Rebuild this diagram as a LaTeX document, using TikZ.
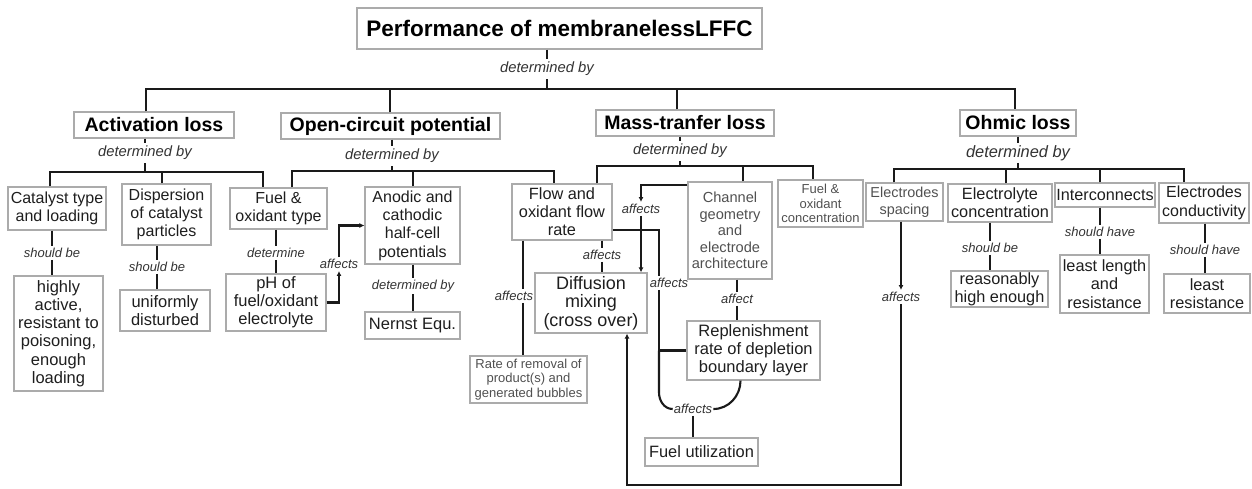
\documentclass[tikz,border=0pt]{standalone}
\usepackage{fontspec}
\setmainfont{Liberation Sans}
\usetikzlibrary{arrows.meta}
\newcommand\setfz[2]{\fontsize{#1}{#2}\selectfont}
\definecolor{bordc}{HTML}{ABABAB}
\definecolor{linec}{HTML}{1A1A1A}
\definecolor{txtc}{HTML}{1E1E1E}
\definecolor{labc}{HTML}{333333}
\definecolor{lightc}{HTML}{505050}
\begin{document}
\begin{tikzpicture}[x=1pt,y=-1pt,
  box/.style={draw=bordc, line width=1.2pt, inner sep=0pt, align=center, text=txtc},
  head/.style={box, font=\bfseries\setfz{19.5}{22}, text=black},
  lab/.style={font=\itshape\setfz{13}{15}, inner xsep=1pt, inner ysep=2pt, text=labc},
  biglab/.style={lab, font=\itshape\setfz{14.8}{17}, inner ysep=3pt},
  conn/.style={draw=linec, line width=2.1pt},
  arr/.style={conn, -{Latex[length=5pt,width=5pt]}}]
\useasboundingbox (0,0) rectangle (1252,488);

% ---- top ----
\node[box, font=\bfseries\setfz{22.5}{26}, text=black, minimum width=405pt, minimum height=41pt] (title) at (559.5,28.5) {Performance of membranelessLFFC};
\node[biglab] (lT) at (547,69) {determined by};

% ---- level 1 ----
\node[head, minimum width=160pt, minimum height=26pt] (act) at (154,125) {Activation loss};
\node[head, minimum width=219pt, minimum height=26pt] (ocp) at (390.5,126) {Open-circuit potential};
\node[head, minimum width=178pt, minimum height=26pt] (mass) at (685,123) {Mass-tranfer loss};
\node[head, minimum width=116pt, minimum height=26pt] (ohm) at (1018,123) {Ohmic loss};

\node[biglab] (lA) at (145,153) {determined by};
\node[biglab] (lO) at (392,156) {determined by};
\node[biglab] (lM) at (680,151) {determined by};
\node[lab, font=\itshape\setfz{16.4}{18}] (lH) at (1018,153) {determined by};

% ---- level 2 ----
\node[box, font=\setfz{16}{18}, minimum width=98pt, minimum height=43pt] (cat) at (57,208.5) {Catalyst type\\and loading};
\node[box, font=\setfz{16}{18}, minimum width=89pt, minimum height=61pt] (disp) at (166.5,214.5) {Dispersion\\of catalyst\\particles};
\node[box, font=\setfz{16}{18}, minimum width=97pt, minimum height=41pt] (fot) at (278.5,208.5) {Fuel \&\\oxidant type};
\node[box, font=\setfz{16}{18.3}, minimum width=95pt, minimum height=77pt] (anod) at (412.5,225.5) {Anodic and\\cathodic\\half-cell\\potentials};
\node[box, font=\setfz{16.3}{18}, minimum width=100pt, minimum height=56pt] (flow) at (562,212) {Flow and\\oxidant flow\\rate};
\node[box, font=\setfz{14.6}{16.5}, text=lightc, minimum width=84pt, minimum height=97pt] (chan) at (730,230.5) {Channel\\geometry\\and\\electrode\\architecture};
\node[box, font=\setfz{13}{14.5}, text=lightc, minimum width=85pt, minimum height=47pt] (foc) at (820.5,203.5) {Fuel \&\\oxidant\\concentration};
\node[box, font=\setfz{14.4}{17}, text=lightc, minimum width=77pt, minimum height=38pt] (esp) at (904.5,202) {Electrodes\\spacing};
\node[box, font=\setfz{16.3}{18}, minimum width=104pt, minimum height=38pt] (econ) at (1000,203) {Electrolyte\\concentration};
\node[box, font=\setfz{16.2}{18}, minimum width=100pt, minimum height=24pt] (inter) at (1105,195) {Interconnects};
\node[box, font=\setfz{16}{18.5}, minimum width=90pt, minimum height=40pt] (econd) at (1204,203) {Electrodes\\conductivity};

% ---- level 3 ----
\node[box, font=\setfz{16.5}{18.3}, minimum width=89pt, minimum height=115pt] (hact) at (58.5,333.5) {highly\\active,\\resistant to\\poisoning,\\enough\\loading};
\node[box, font=\setfz{16.5}{18}, minimum width=90pt, minimum height=41pt] (unif) at (165,310.5) {uniformly\\disturbed};
\node[box, font=\setfz{16.5}{18}, minimum width=100pt, minimum height=57pt] (ph) at (276,302.5) {pH of\\fuel/oxidant\\electrolyte};
\node[box, font=\setfz{16.5}{18}, minimum width=95pt, minimum height=27pt] (nern) at (412.5,325.5) {Nernst Equ.};
\node[box, font=\setfz{18}{18.5}, minimum width=112pt, minimum height=60pt] (diff) at (591,303) {Diffusion\\mixing\\(cross over)};
\node[box, font=\setfz{13}{14.5}, text=lightc, minimum width=117pt, minimum height=47pt] (rate) at (528.5,379.5) {Rate of removal of\\product(s) and\\generated bubbles};
\node[box, font=\setfz{16.5}{18}, minimum width=133pt, minimum height=59pt] (repl) at (753.5,350.5) {Replenishment\\rate of depletion\\boundary layer};
\node[box, font=\setfz{16.4}{18}, minimum width=113pt, minimum height=28pt] (futil) at (701.5,452) {Fuel utilization};
\node[box, font=\setfz{16.3}{18}, minimum width=97pt, minimum height=36pt] (reas) at (999.5,289) {reasonably\\high enough};
\node[box, font=\setfz{16.3}{18.5}, minimum width=89pt, minimum height=58pt] (llen) at (1104.5,284) {least length\\and\\resistance};
\node[box, font=\setfz{16.3}{18.5}, minimum width=86pt, minimum height=39pt] (lres) at (1207,293.5) {least\\resistance};

% ---- labels ----
\node[lab] (l1) at (52,253) {should be};
\node[lab] (l2) at (157,267) {should be};
\node[lab] (l3) at (276,253) {determine};
\node[lab] (l4) at (413,286) {determined by};
\node[lab] (la) at (339,264) {affects};
\node[lab] (lr) at (514,296) {affects};
\node[lab] (ld) at (602,255) {affects};
\node[lab] (lc) at (641,209) {affects};
\node[lab] (lf) at (669,283) {affects};
\node[lab] (lrep) at (737,299) {affect};
\node[lab] (lfu) at (693,409) {affects};
\node[lab] (le) at (901,297) {affects};
\node[lab] (l5) at (990,248) {should be};
\node[lab] (l6) at (1100,232) {should have};
\node[lab] (l7) at (1205,250) {should have};

% ---- coordinates ----
\coordinate (b0) at (547,89);
\coordinate (bA) at (145,172);
\coordinate (bO) at (392,171);
\coordinate (bM) at (680,166);
\coordinate (bH) at (1018,169);
\coordinate (xAct) at (146,0);
\coordinate (xOcp) at (390,0);
\coordinate (xMas) at (677,0);
\coordinate (xOhm) at (1015,0);
\coordinate (x50) at (50,0);
\coordinate (x162) at (162,0);
\coordinate (x263) at (263,0);
\coordinate (x292) at (292,0);
\coordinate (x413) at (413,0);
\coordinate (x554) at (554,0);
\coordinate (x597) at (597,0);
\coordinate (x743) at (743,0);
\coordinate (x813) at (813,0);
\coordinate (x894) at (894,0);
\coordinate (x1006) at (1006,0);
\coordinate (x1100) at (1100,0);
\coordinate (x1184) at (1184,0);
\coordinate (x523) at (523,0);
\coordinate (x659) at (659,0);
\coordinate (cb) at (627,485);

% ---- top connectors ----
\draw[conn] (title.south -| lT) -- (lT);
\draw[conn] (lT) -- (b0);
\draw[conn] (xAct |- act.north) -- (xAct |- b0) -- (xOhm |- b0) -- (xOhm |- ohm.north);
\draw[conn] (xOcp |- ocp.north) -- (xOcp |- b0);
\draw[conn] (xMas |- mass.north) -- (xMas |- b0);

% activation
\draw[conn] (act.south -| lA) -- (lA);
\draw[conn] (lA) -- (bA);
\draw[conn] (x50 |- cat.north) -- (x50 |- bA) -- (x263 |- bA) -- (x263 |- fot.north);
\draw[conn] (x162 |- disp.north) -- (x162 |- bA);
% open circuit
\draw[conn] (ocp.south -| lO) -- (lO);
\draw[conn] (lO) -- (bO);
\draw[conn] (x292 |- fot.north) -- (x292 |- bO) -- (x554 |- bO) -- (x554 |- flow.north);
\draw[conn] (x413 |- anod.north) -- (x413 |- bO);
% mass transfer
\draw[conn] (mass.south -| lM) -- (lM);
\draw[conn] (lM) -- (bM);
\draw[conn] (x597 |- flow.north) -- (x597 |- bM) -- (x813 |- bM) -- (x813 |- foc.north);
\draw[conn] (x743 |- chan.north) -- (x743 |- bM);
% ohmic
\draw[conn] (ohm.south -| lH) -- (lH);
\draw[conn] (lH) -- (bH);
\draw[conn] (x894 |- esp.north) -- (x894 |- bH) -- (x1184 |- bH) -- (x1184 |- econd.north);
\draw[conn] (x1006 |- econ.north) -- (x1006 |- bH);
\draw[conn] (x1100 |- inter.north) -- (x1100 |- bH);

% ---- level 3 connectors ----
\draw[conn] (cat.south -| l1) -- (l1);   \draw[conn] (l1) -- (hact.north -| l1);
\draw[conn] (disp.south -| l2) -- (l2);  \draw[conn] (l2) -- (unif.north -| l2);
\draw[conn] (fot.south -| l3) -- (l3);   \draw[conn] (l3) -- (ph.north -| l3);
\draw[conn] (anod.south -| l4) -- (l4);  \draw[conn] (l4) -- (nern.north -| l4);
\draw[conn] (econ.south -| l5) -- (l5);  \draw[conn] (l5) -- (reas.north -| l5);
\draw[conn] (inter.south -| l6) -- (l6); \draw[conn] (l6) -- (llen.north -| l6);
\draw[conn] (econd.south -| l7) -- (l7); \draw[conn] (l7) -- (lres.north -| l7);
\draw[conn] (chan.south -| lrep) -- (lrep); \draw[conn] (lrep) -- (repl.north -| lrep);
\draw[conn] (flow.south -| ld) -- (ld);  \draw[conn] (ld) -- (diff.north -| ld);

% pH affects anodic
\draw[arr] (ph.east) -| (la.south);
\draw[arr] (la.north) |- (anod.west);

% flow affects removal
\draw[conn] (x523 |- flow.south) -- (x523 |- lr.north);
\draw[conn] (x523 |- lr.south) -- (x523 |- rate.north);

% channel affects diffusion
\draw[arr] ([yshift=-4pt]chan.north west) -| (lc.north);
\draw[arr] (lc.south) -- (diff.north -| lc);

% flow affects replenishment / fuel utilization
\coordinate (fe) at ([yshift=-18pt]flow.east);
\draw[conn] (fe) -| (x659 |- lf.north);
\draw[conn] (x659 |- lf.south) -- (x659 |- repl.west) -- (repl.west);
\draw[conn] (x659 |- repl.west) -- ++(0,42) to[out=-90,in=180] (lfu.west);
\draw[conn] ([xshift=-13pt]repl.south) to[out=-90,in=0] (lfu.east);
\draw[conn] (lfu) -- (futil.north -| lfu);

% electrodes spacing affects diffusion
\draw[arr] (esp.south -| le) -- (le.north);
\draw[arr] (le.south) |- (cb) -- (cb |- diff.south);
\end{tikzpicture}
\end{document}
